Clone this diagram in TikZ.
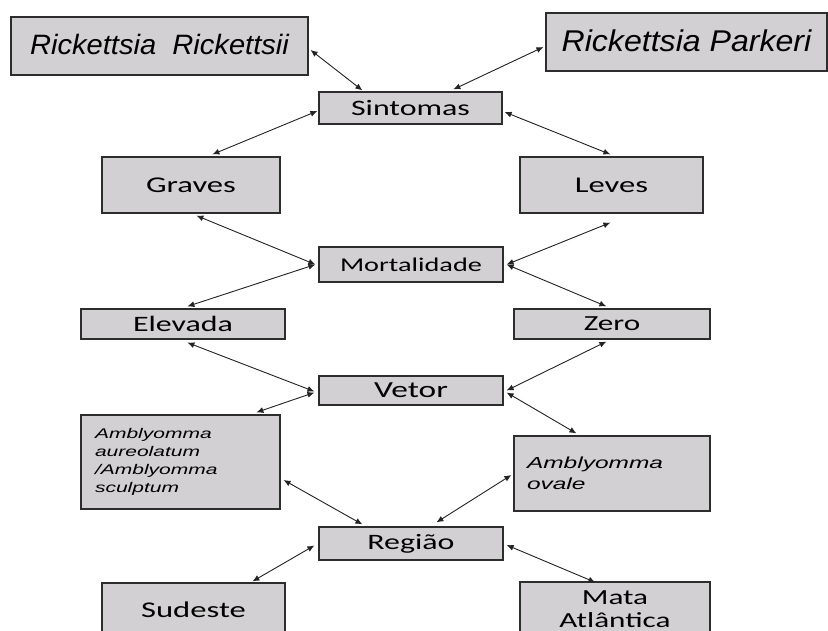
\documentclass[tikz,border=0pt]{standalone}
\usepackage{fontspec}
\usepackage{graphicx}
\usetikzlibrary{arrows.meta,calc}
\newfontfamily\calfont{Carlito}
\newfontfamily\arfont{Liberation Sans}
\definecolor{boxfill}{RGB}{210,208,210}
\definecolor{boxline}{RGB}{45,45,45}
\definecolor{arrowcol}{RGB}{35,35,35}
\newcommand{\cw}[2][22]{{\fontsize{#1}{#1}\calfont\scalebox{1.45}[1]{#2}}}
\newcommand{\aw}[2]{\scalebox{#1}[1]{#2}}
\tikzset{
  box/.style={draw=boxline, fill=boxfill, line width=1.2pt, inner sep=0pt, anchor=center, text=black},
  conn/.style={{Latex[length=7pt,width=6pt]}-{Latex[length=7pt,width=6pt]}, line width=0.9pt, draw=arrowcol},
}
\begin{document}
\begin{tikzpicture}[x=1pt,y=-1pt]
\useasboundingbox (0,0) rectangle (828,631);
\fill[white] (0,0) rectangle (828,631);
\clip (0,0) rectangle (828,631);

\node[box, minimum width=297pt, minimum height=58pt] (rr) at (159.5,46)
  {\fontsize{28}{28}\arfont\itshape\raisebox{3pt}{\aw{1.04}{Rickettsia\ \ Rickettsii}}};
\node[box, minimum width=281pt, minimum height=58pt] (rp) at (686.5,42)
  {\fontsize{30}{30}\arfont\itshape\raisebox{3pt}{\aw{1.07}{Rickettsia Parkeri}}};
\node[box, minimum width=183pt, minimum height=32pt] (sint) at (410.5,108) {\cw[22]{Sintomas}};
\node[box, minimum width=178pt, minimum height=56pt] (graves) at (191,185) {\cw[22.5]{Graves}};
\node[box, minimum width=183pt, minimum height=56pt] (leves) at (611.5,185) {\cw[22.5]{Leves}};
\node[box, minimum width=184pt, minimum height=35pt] (mort) at (411,264.5) {\cw[19.5]{Mortalidade}};
\node[box, minimum width=204pt, minimum height=30pt] (elev) at (183,324) {\cw[22]{Elevada}};
\node[box, minimum width=196pt, minimum height=30pt] (zero) at (612,324) {\cw[21.5]{Zero}};
\node[box, minimum width=184pt, minimum height=29pt] (vetor) at (411,390.5) {\cw[23]{Vetor}};
\node[box, text width=171pt, inner xsep=14pt, align=left, minimum height=94pt,
  font=\fontsize{14}{18}\arfont\itshape] (aur) at (180.5,462)
  {\aw{1.5}{Amblyomma}\\ \aw{1.5}{aureolatum}\\ \aw{1.5}{/Amblyomma}\\ \aw{1.5}{sculptum}};
\node[box, text width=170pt, inner xsep=13pt, align=left, minimum height=75pt,
  font=\fontsize{16}{21}\arfont\itshape] (ovale) at (612,473.5)
  {\aw{1.53}{Amblyomma}\\ \aw{1.53}{ovale}};
\node[box, minimum width=184pt, minimum height=33pt] (regiao) at (411,543.5) {\cw[22]{Região}};
\node[box, minimum width=183pt, minimum height=54pt] (sud) at (193.5,610) {\cw[22.5]{Sudeste}};
\node[box, minimum width=190pt, minimum height=54pt, align=center,
  font=\fontsize{21.5}{23.5}\calfont] (mata) at (615,609)
  {\aw{1.45}{Mata}\\ \aw{1.45}{Atlântica}};

\draw[conn] ($(rr.east)+(2,4)$) -- ($(sint.north west)+(44,-1)$);
\draw[conn] ($(sint.west)+(-1,3)$) -- ($(graves.north west)+(111,-2)$);
\draw[conn] ($(rp.west)+(-2,5)$) -- ($(sint.north west)+(135,-2)$);
\draw[conn] ($(sint.east)+(2,4)$) -- ($(leves.north west)+(91,-2)$);
\draw[conn] ($(graves.south west)+(95,2)$) -- ($(mort.west)+(-3,0)$);
\draw[conn] ($(elev.north west)+(107,-2)$) -- ($(mort.west)+(-3,0)$);
\draw[conn] ($(mort.east)+(3,0)$) -- ($(leves.south west)+(91,9)$);
\draw[conn] ($(mort.east)+(3,0)$) -- ($(zero.north west)+(93,-2)$);
\draw[conn] ($(elev.south west)+(107,3)$) -- ($(vetor.west)+(-4,1)$);
\draw[conn] ($(vetor.west)+(-4,2)$) -- ($(aur.north west)+(176,-2)$);
\draw[conn] ($(vetor.east)+(3,0)$) -- ($(zero.south west)+(93,2)$);
\draw[conn] ($(vetor.east)+(3,2)$) -- ($(ovale.north west)+(63,-2)$);
\draw[conn] ($(aur.east)+(3,18)$) -- ($(regiao.north west)+(44,-2)$);
\draw[conn] ($(regiao.west)+(-4,2)$) -- ($(sud.north west)+(151,-1)$);
\draw[conn] ($(regiao.north west)+(118,-4)$) -- ($(ovale.west)+(-2,1.5)$);
\draw[conn] ($(regiao.east)+(3,1.5)$) -- ($(mata.north west)+(76,1)$);
\end{tikzpicture}
\end{document}
